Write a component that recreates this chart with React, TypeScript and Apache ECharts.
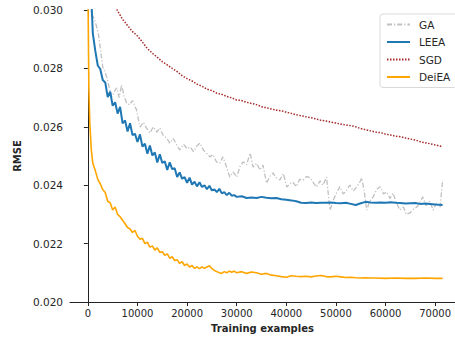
import React, { useEffect, useRef } from "react";
import * as echarts from "echarts";

const xTicks = [0, 10000, 20000, 30000, 40000, 50000, 60000, 70000];
const yTicks = [0.02, 0.022, 0.024, 0.026, 0.028, 0.03];
const seriesNames = ["GA", "LEEA", "SGD", "DeiEA"];

const gaX = [300, 800, 1400, 1800, 2100, 2500, 3000, 3400, 3800, 4300, 4800, 5300, 5800, 6300, 6800, 7300, 7800, 8400, 9000, 9800, 10500, 11200, 11800, 12500, 13200, 13900, 14500, 15200, 15900, 16500, 17200, 17900, 18500, 19300, 20000, 20600, 21300, 22000, 22600, 23300, 23900, 24600, 25200, 25900, 26600, 27200, 27800, 28600, 29300, 30000, 30700, 31300, 32000, 32700, 33300, 34000, 34700, 35300, 36000, 36700, 37300, 38000, 38700, 39400, 40100, 40700, 41300, 42000, 42700, 43400, 44100, 44800, 45400, 46100, 46800, 47400, 48100, 48800, 49500, 50100, 50800, 51500, 52200, 52800, 53500, 54200, 54800, 55200, 55700, 56200, 56800, 57500, 58200, 58900, 59600, 60200, 60900, 61500, 62200, 62900, 63600, 64200, 64900, 65600, 66300, 66900, 67500, 68200, 68900, 69600, 70300, 71000, 71500];
const gaY = [0.0302, 0.02985, 0.02966, 0.0294, 0.02921, 0.0287, 0.02805, 0.0279, 0.02771, 0.02735, 0.02702, 0.0272, 0.02733, 0.027, 0.02743, 0.02705, 0.02682, 0.02675, 0.0269, 0.02658, 0.02599, 0.02615, 0.02596, 0.02579, 0.026, 0.02582, 0.02596, 0.0257, 0.02562, 0.02544, 0.0256, 0.02538, 0.02521, 0.0254, 0.02525, 0.02531, 0.02515, 0.02535, 0.02544, 0.0252, 0.0251, 0.02497, 0.02505, 0.0248, 0.02476, 0.02497, 0.0247, 0.02428, 0.02445, 0.02428, 0.02465, 0.0248, 0.0247, 0.0251, 0.02462, 0.02475, 0.02452, 0.02469, 0.02407, 0.0243, 0.02442, 0.02425, 0.02418, 0.0244, 0.02394, 0.02405, 0.02411, 0.02395, 0.0242, 0.02418, 0.0243, 0.02425, 0.0241, 0.02394, 0.02415, 0.024, 0.02428, 0.02315, 0.0235, 0.02373, 0.02395, 0.0237, 0.02384, 0.024, 0.0238, 0.02394, 0.0241, 0.02425, 0.0238, 0.02315, 0.02345, 0.0236, 0.02385, 0.02395, 0.0237, 0.02377, 0.02355, 0.02373, 0.0234, 0.02315, 0.02325, 0.023, 0.02305, 0.02318, 0.02325, 0.0234, 0.0236, 0.0233, 0.02345, 0.02315, 0.0234, 0.02325, 0.02418];

const leeaX = [500, 1000, 1500, 2000, 2500, 3000, 3500, 4000, 4500, 5000, 5500, 6000, 6500, 7000, 7500, 8000, 8500, 9000, 9500, 10000, 10500, 11000, 11500, 12000, 12500, 13000, 13500, 14000, 14500, 15000, 15500, 16000, 16500, 17000, 17500, 18000, 18500, 19000, 19500, 20000, 20500, 21000, 21500, 22000, 22500, 23000, 23500, 24000, 24500, 25000, 25500, 26000, 26500, 27000, 27500, 28000, 28500, 29000, 29500, 30000, 31000, 32000, 33000, 34000, 35000, 36000, 37000, 38000, 39000, 40000, 41000, 42000, 43000, 44000, 45000, 46000, 47000, 48000, 49000, 50000, 51000, 52000, 53000, 54000, 55000, 56000, 57000, 58000, 59000, 60000, 61000, 62000, 63000, 64000, 65000, 66000, 67000, 68000, 69000, 70000, 71500];
const leeaY = [0.0312, 0.0292, 0.0286, 0.0281, 0.02798, 0.0276, 0.02752, 0.02702, 0.0272, 0.02672, 0.02684, 0.02645, 0.02668, 0.02612, 0.02622, 0.02584, 0.02612, 0.02572, 0.02576, 0.02548, 0.02574, 0.02532, 0.02542, 0.02508, 0.02536, 0.02502, 0.02512, 0.02478, 0.02506, 0.02476, 0.02482, 0.02452, 0.02478, 0.02455, 0.02458, 0.02428, 0.02444, 0.02422, 0.02428, 0.02408, 0.02426, 0.02402, 0.02412, 0.02396, 0.0241, 0.02394, 0.024, 0.02386, 0.02398, 0.02382, 0.02386, 0.02376, 0.02388, 0.02372, 0.02376, 0.02366, 0.02374, 0.02364, 0.02366, 0.0236, 0.02362, 0.02356, 0.02358, 0.02356, 0.0236, 0.02357, 0.02355, 0.02356, 0.02352, 0.0235, 0.02348, 0.02345, 0.0234, 0.02339, 0.02341, 0.02339, 0.0234, 0.0234, 0.02341, 0.02339, 0.02338, 0.0234, 0.02336, 0.02332, 0.02338, 0.02343, 0.02341, 0.0234, 0.02341, 0.0234, 0.02342, 0.0234, 0.02339, 0.02337, 0.02338, 0.02339, 0.02336, 0.02337, 0.02336, 0.02334, 0.02332];

const sgdX = [5000, 6000, 7000, 8000, 9000, 10000, 11000, 12000, 13000, 14000, 15000, 16000, 17000, 18000, 19000, 20000, 21000, 22000, 23000, 24000, 25000, 26000, 27000, 28000, 29000, 30000, 31000, 32000, 33000, 34000, 35000, 36000, 37000, 38000, 39000, 40000, 41000, 42000, 43000, 44000, 45000, 46000, 47000, 48000, 49000, 50000, 51000, 52000, 53000, 54000, 55000, 56000, 57000, 58000, 59000, 60000, 61000, 62000, 63000, 64000, 65000, 66000, 67000, 68000, 69000, 70000, 71000, 71500];
const sgdY = [0.0303, 0.02997, 0.02968, 0.02947, 0.02926, 0.02911, 0.0289, 0.02868, 0.02852, 0.02838, 0.02823, 0.02812, 0.028, 0.02789, 0.02775, 0.02765, 0.02757, 0.02746, 0.02739, 0.02729, 0.02724, 0.02715, 0.02711, 0.02704, 0.02699, 0.02692, 0.0269, 0.02684, 0.0268, 0.02676, 0.02669, 0.02665, 0.02661, 0.02657, 0.02655, 0.0265, 0.02646, 0.02641, 0.02638, 0.02634, 0.02631, 0.02627, 0.02622, 0.0262, 0.02616, 0.02613, 0.02609, 0.02606, 0.02604, 0.026, 0.02594, 0.0259, 0.02586, 0.02582, 0.0258, 0.02575, 0.02572, 0.02568, 0.02566, 0.02562, 0.02558, 0.02555, 0.02549, 0.02545, 0.02542, 0.02538, 0.02534, 0.02531];

const deiX = [0, 200, 400, 700, 1000, 1500, 2000, 2500, 3000, 3500, 4000, 4500, 5000, 5500, 6000, 6500, 7000, 7500, 8000, 8500, 9000, 9500, 10000, 10500, 11000, 11500, 12000, 12500, 13000, 13500, 14000, 14500, 15000, 15500, 16000, 16500, 17000, 17500, 18000, 18500, 19000, 19500, 20000, 20500, 21000, 21500, 22000, 22500, 23000, 23500, 24000, 24500, 25000, 25500, 26000, 26500, 27000, 27500, 28000, 28500, 29000, 29500, 30000, 31000, 32000, 33000, 34000, 35000, 36000, 37000, 38000, 39000, 40000, 41000, 42000, 43000, 44000, 45000, 46000, 47000, 48000, 49000, 50000, 51000, 52000, 53000, 54000, 55000, 56000, 57000, 58000, 60000, 62000, 64000, 66000, 68000, 70000, 71500];
const deiY = [0.031, 0.0273, 0.0261, 0.0252, 0.02475, 0.0245, 0.0242, 0.02405, 0.02385, 0.02375, 0.02345, 0.0234, 0.02315, 0.02325, 0.023, 0.02292, 0.0228, 0.02268, 0.02255, 0.0225, 0.02238, 0.02245, 0.02225, 0.02215, 0.02218, 0.022, 0.02205, 0.02188, 0.02192, 0.02178, 0.02185, 0.0217, 0.02172, 0.0216, 0.02165, 0.0215, 0.02155, 0.02142, 0.02145, 0.02132, 0.02138, 0.02125, 0.0213, 0.0212, 0.02125, 0.02115, 0.0212, 0.02114, 0.0212, 0.02115, 0.0212, 0.02124, 0.02114, 0.02108, 0.02104, 0.021, 0.02098, 0.02104, 0.021, 0.02106, 0.02102, 0.02106, 0.021, 0.02104, 0.02098, 0.02103, 0.021, 0.02095, 0.02098, 0.02092, 0.0209, 0.02087, 0.02085, 0.0209, 0.02088, 0.02087, 0.02088, 0.02086, 0.02089, 0.02091, 0.02087, 0.02086, 0.02088, 0.02086, 0.02084, 0.02085, 0.02083, 0.02082, 0.02083, 0.02082, 0.02082, 0.02081, 0.02082, 0.02081, 0.02081, 0.02082, 0.02081, 0.02081];

const pair = (xs: number[], ys: number[]) => xs.map((x, i) => [x, ys[i]]);

const FONT = "DejaVu Sans";
const TXT = "#262626";

export default function App() {
  const ref = useRef<HTMLDivElement>(null);
  useEffect(() => {
    if (!ref.current) return;
    const chart = echarts.init(ref.current, null, { renderer: "svg" });
    chart.setOption({
      animation: false,
      backgroundColor: "#ffffff",
      grid: { left: 70, right: 0, top: 10, bottom: 37, containLabel: false },
      legend: {
        orient: "vertical",
        left: 380,
        top: 14,
        data: seriesNames,
        itemWidth: 23,
        itemHeight: 10,
        itemGap: 6.5,
        padding: [5, 7, 5, 6],
        borderColor: "#d9d9d9",
        borderWidth: 1,
        borderRadius: 3,
        backgroundColor: "rgba(255,255,255,0.8)",
        itemStyle: { opacity: 0 },
        textStyle: { fontFamily: FONT, fontSize: 10.5, color: TXT, padding: [0, 0, 0, 4] },
      },
      xAxis: {
        type: "value",
        min: -3600,
        max: 74000,
        name: "Training examples",
        nameLocation: "middle",
        nameGap: 21,
        nameTextStyle: { fontFamily: FONT, fontSize: 10, fontWeight: "bold", color: TXT },
        splitLine: { show: false },
        axisLine: { show: true, lineStyle: { color: "#222", width: 1 } },
        axisTick: { show: true, length: 4, lineStyle: { color: "#222" }, customValues: xTicks },
        axisLabel: {
          fontFamily: FONT,
          fontSize: 10,
          color: TXT,
          margin: 6,
          customValues: xTicks,
          formatter: (v: number) => String(v),
        },
      },
      yAxis: {
        type: "value",
        min: 0.02,
        max: 0.03,
        name: "RMSE",
        nameLocation: "middle",
        nameGap: 40,
        nameTextStyle: { fontFamily: FONT, fontSize: 10, fontWeight: "bold", color: TXT },
        splitLine: { show: false },
        axisLine: { show: true, lineStyle: { color: "#222", width: 1 } },
        axisTick: { show: true, length: 4, lineStyle: { color: "#222" }, customValues: yTicks },
        axisLabel: {
          fontFamily: FONT,
          fontSize: 10.5,
          color: TXT,
          margin: 7,
          customValues: yTicks,
          formatter: (v: number) => v.toFixed(3),
        },
      },
      series: [
        {
          name: "GA",
          type: "line",
          symbol: "none",
          data: pair(gaX, gaY),
          lineStyle: { color: "#c0c0c0", width: 1.3, type: [5, 2, 1.2, 2] },
          itemStyle: { color: "#c0c0c0" },
          z: 2,
        },
        {
          name: "LEEA",
          type: "line",
          symbol: "none",
          data: pair(leeaX, leeaY),
          lineStyle: { color: "#1f77b4", width: 2 },
          itemStyle: { color: "#1f77b4" },
          z: 3,
        },
        {
          name: "SGD",
          type: "line",
          symbol: "none",
          data: pair(sgdX, sgdY),
          lineStyle: { color: "#a52a2a", width: 1.5, type: [1.5, 1.5] },
          itemStyle: { color: "#a52a2a" },
          z: 4,
        },
        {
          name: "DeiEA",
          type: "line",
          symbol: "none",
          data: pair(deiX, deiY),
          lineStyle: { color: "#ffa500", width: 1.6 },
          itemStyle: { color: "#ffa500" },
          z: 5,
        },
      ],
    });
    return () => chart.dispose();
  }, []);
  return (
    <div
      ref={ref}
      style={{ position: "fixed", left: 0, top: 0, width: 455, height: 339, background: "#fff" }}
    />
  );
}
